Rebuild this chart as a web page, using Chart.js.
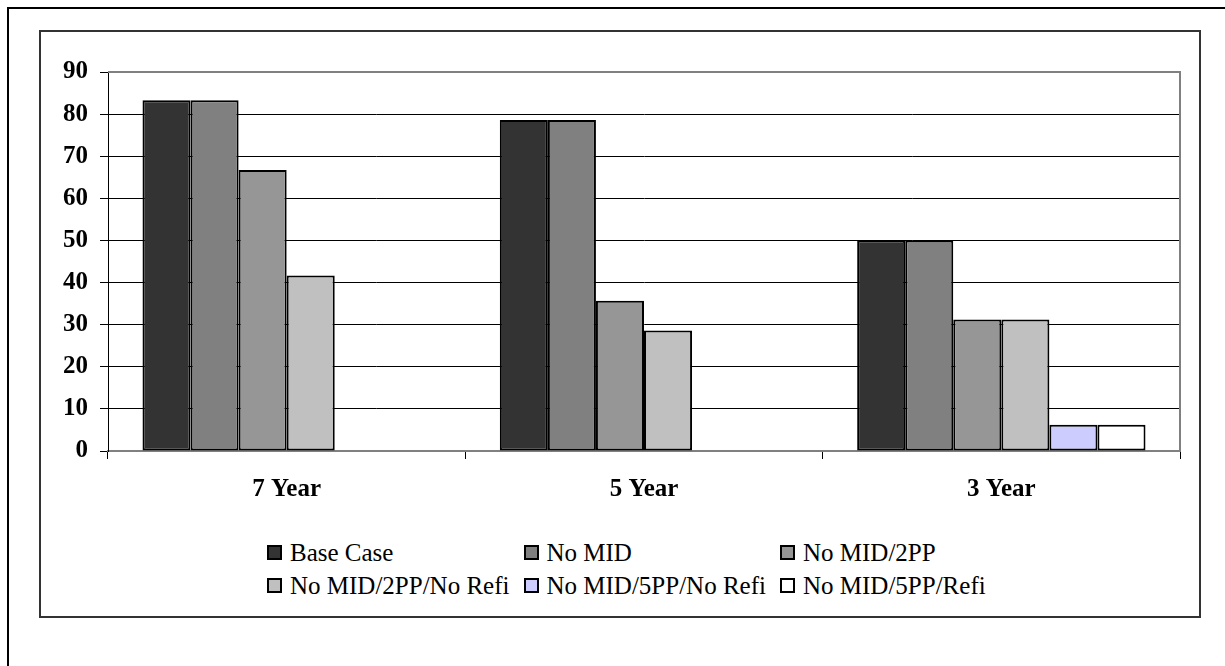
<!DOCTYPE html>
<html>
<head>
<meta charset="utf-8">
<script src="https://cdn.jsdelivr.net/npm/chart.js@4/dist/chart.umd.min.js"></script>
<style>
    html, body {
        margin: 0;
        padding: 0;
        background: #fff;
        width: 1225px;
        height: 666px;
        overflow: hidden;
        font-family: 'Liberation Serif', 'Times New Roman', serif;
    }
    .outer-frame {
        position: absolute;
        left: 7px;
        top: 7px;
        width: 1300px;
        height: 700px;
        border-top: 2px solid #000;
        border-left: 2px solid #000;
    }
    .chart-box {
        position: absolute;
        left: 39px;
        top: 30px;
        width: 1158px;
        height: 584px;
        border: 2px solid #333;
        background: #fff;
    }
    .chart-box canvas {
        position: absolute;
        left: 0;
        top: 0;
    }
    #legend {
        position: absolute;
        left: 226px;
        top: 504px;
        font-size: 25px;
        color: #000;
    }
    .legend-row {
        display: flex;
        height: 33px;
        align-items: center;
    }
    .legend-item {
        display: flex;
        align-items: center;
        width: 256.5px;
        white-space: nowrap;
    }
    .legend-swatch {
        width: 11px;
        height: 11px;
        border: 2px solid #000;
        margin-right: 8px;
        flex: none;
    }
</style>
</head>
<body>
<div class="outer-frame"></div>
<div class="chart-box">
    <canvas id="mortgageChart" width="1158" height="500"></canvas>
    <div id="legend"></div>
</div>
<script>
// Chart data
const categories = ['7 Year', '5 Year', '3 Year'];
const seriesNames = [
    'Base Case',
    'No MID',
    'No MID/2PP',
    'No MID/2PP/No Refi',
    'No MID/5PP/No Refi',
    'No MID/5PP/Refi'
];
const baseCase = [83.3, 78.6, 50.0];
const noMid = [83.3, 78.6, 50.0];
const noMid2pp = [66.7, 35.7, 31.25];
const noMid2ppNoRefi = [41.7, 28.6, 31.25];
const noMid5ppNoRefi = [0, 0, 6.25];
const noMid5ppRefi = [0, 0, 6.25];
const seriesColors = ['#333333', '#808080', '#969696', '#C0C0C0', '#CCCCFF', '#FFFFFF'];
const yTicks = [0, 10, 20, 30, 40, 50, 60, 70, 80, 90];

const seriesValues = [baseCase, noMid, noMid2pp, noMid2ppNoRefi, noMid5ppNoRefi, noMid5ppRefi];
const serifFont = "'Liberation Serif', 'Times New Roman', serif";

// Grey frame on the top and right of the plot area
const plotFrame = {
    id: 'plotFrame',
    afterDraw(chart) {
        const { ctx, chartArea } = chart;
        ctx.save();
        ctx.strokeStyle = '#808080';
        ctx.lineWidth = 2;
        ctx.beginPath();
        ctx.moveTo(chartArea.left, chartArea.top);
        ctx.lineTo(chartArea.right, chartArea.top);
        ctx.lineTo(chartArea.right, chartArea.bottom);
        ctx.stroke();
        ctx.restore();
    }
};

document.addEventListener('DOMContentLoaded', () => {
    const ctx = document.getElementById('mortgageChart').getContext('2d');
    const chart = new Chart(ctx, {
        type: 'bar',
        data: {
            labels: categories,
            datasets: seriesNames.map((name, i) => ({
                label: name,
                data: seriesValues[i],
                backgroundColor: seriesColors[i],
                borderColor: '#000',
                borderWidth: 2,
                borderSkipped: false,
                categoryPercentage: 0.807,
                barPercentage: 1.0
            }))
        },
        options: {
            responsive: false,
            animation: false,
            events: [],
            layout: {
                padding: { top: 40, right: 19, bottom: 0, left: 0 }
            },
            plugins: {
                legend: { display: false },
                tooltip: { enabled: false }
            },
            scales: {
                x: {
                    afterFit: (scale) => { scale.height = 81; },
                    grid: {
                        offset: true,
                        drawOnChartArea: false,
                        tickLength: 8,
                        tickColor: '#000'
                    },
                    border: { color: '#808080', width: 2 },
                    ticks: {
                        color: '#000',
                        padding: 16,
                        font: { family: serifFont, size: 25, weight: 'bold' }
                    }
                },
                y: {
                    min: 0,
                    max: 90,
                    afterFit: (scale) => { scale.width = 67; },
                    afterBuildTicks: (scale) => {
                        scale.ticks = yTicks.map(v => ({ value: v }));
                    },
                    grid: {
                        color: (c) => (c.tick && (c.tick.value === 0 || c.tick.value === 90)) ? '#808080' : '#000',
                        lineWidth: 1,
                        tickLength: 8,
                        tickColor: '#000'
                    },
                    border: { color: '#000', width: 1 },
                    ticks: {
                        color: '#000',
                        padding: 12,
                        font: { family: serifFont, size: 25, weight: 'bold' }
                    }
                }
            }
        },
        plugins: [plotFrame]
    });

    buildLegend(chart);
});

// Legend built from the chart datasets, three per row
function buildLegend(chart) {
    const container = document.getElementById('legend');
    container.innerHTML = '';
    let row = null;
    chart.data.datasets.forEach((ds, i) => {
        if (i % 3 === 0) {
            row = document.createElement('div');
            row.className = 'legend-row';
            container.appendChild(row);
        }
        const item = document.createElement('div');
        item.className = 'legend-item';
        item.innerHTML = `<span class="legend-swatch" style="background:${ds.backgroundColor}"></span><span>${ds.label}</span>`;
        row.appendChild(item);
    });
}
</script>
</body>
</html>
